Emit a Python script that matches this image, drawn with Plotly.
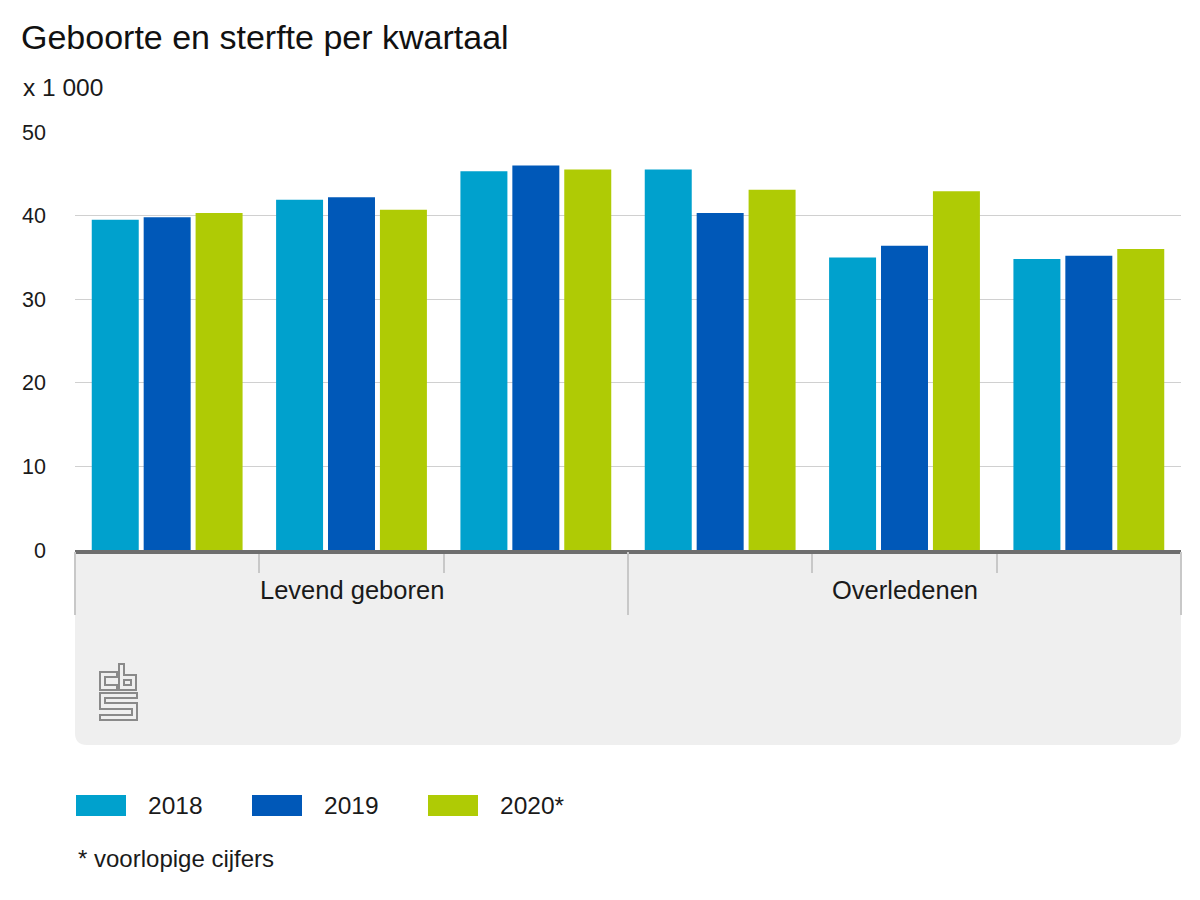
import plotly.graph_objects as go

# ---------------- data ----------------
groups = ["Levend geboren", "Overledenen"]
quarters = ["1e kwartaal", "2e kwartaal", "3e kwartaal"]
series_names = ["2018", "2019", "2020*"]
v2018 = [39.5, 41.9, 45.3, 45.5, 35.0, 34.8]
v2019 = [39.8, 42.2, 46.0, 40.3, 36.4, 35.2]
v2020 = [40.3, 40.7, 45.5, 43.1, 42.9, 36.0]
series_values = [v2018, v2019, v2020]
colors = ["#00A1CD", "#0058B8", "#AFCB05"]
y_ticks = [0, 10, 20, 30, 40, 50]
title_text = "Geboorte en sterfte per kwartaal"
unit_text = "x 1 000"
footnote = "* voorlopige cijfers"

categories = [f"{g} – {q}" for g in groups for q in quarters]

# ---------------- geometry helpers ----------------
OFF = 8  # page body margin
W, H = 1200, 900
ML, MR, MT, MB = 67, 27, 124, 358
PW, PH = W - ML - MR, H - MT - MB
FONT = "Liberation Sans, Arial, sans-serif"


def px(x):
    return (x - OFF - ML) / PW


def py(y):
    return (H - MB - (y - OFF)) / PH


fig = go.Figure()
for name, vals, col in zip(series_names, series_values, colors):
    fig.add_trace(go.Bar(
        x=categories, y=vals, name=name,
        marker=dict(color=col, line=dict(width=0)),
        showlegend=False,
        hovertemplate="%{x}<br>" + name + ": %{y}<extra></extra>",
    ))

shapes = []
annotations = []

# grey band below the axis with rounded bottom corners
x0, x1 = px(75), px(1181)
y0, y1 = py(552), py(745)
rx, ry = 12 / PW, 12 / PH
band_path = (f"M {x0},{y0} L {x1},{y0} L {x1},{y1 + ry} Q {x1},{y1} {x1 - rx},{y1} "
             f"L {x0 + rx},{y1} Q {x0},{y1} {x0},{y1 + ry} Z")
shapes.append(dict(type="path", path=band_path, xref="paper", yref="paper",
                   fillcolor="#EFEFEF", line=dict(width=0), layer="below"))

# long divider lines at group boundaries
n_cat = len(categories)
n_q = len(quarters)
for k in range(len(groups) + 1):
    xb = (k * n_q) / n_cat
    shapes.append(dict(type="line", xref="paper", yref="paper",
                       x0=xb, x1=xb, y0=py(552), y1=py(615),
                       line=dict(color="#C8C8C8", width=2), layer="above"))

# group labels
for i, g in enumerate(groups):
    xc = (i * n_q + n_q / 2) / n_cat
    annotations.append(dict(text=g, xref="paper", yref="paper", x=xc, y=py(590),
                            xanchor="center", yanchor="middle", showarrow=False,
                            font=dict(size=25.5, color="#1A1A1A", family=FONT)))

# CBS logo (outline drawing)
logo_paths = [
    [(100, 672), (117, 672), (117, 677), (105, 677), (105, 685), (117, 685), (117, 690), (100, 690)],
    [(119, 664), (124, 664), (124, 675), (136, 675), (136, 690), (119, 690)],
    [(124, 680), (131, 680), (131, 685), (124, 685)],
    [(100, 693), (137, 693), (137, 698), (105, 698), (105, 703), (137, 703), (137, 720),
     (100, 720), (100, 715), (132, 715), (132, 709), (100, 709)],
]
for pts in logo_paths:
    d = "M " + " L ".join(f"{px(a)},{py(b)}" for a, b in pts) + " Z"
    shapes.append(dict(type="path", path=d, xref="paper", yref="paper",
                       line=dict(color="#8A8A8A", width=2), fillcolor="rgba(0,0,0,0)"))

# custom legend
leg_x = [76, 252, 428]
for lx, name, col in zip(leg_x, series_names, colors):
    shapes.append(dict(type="rect", xref="paper", yref="paper",
                       x0=px(lx), x1=px(lx + 50), y0=py(795), y1=py(816),
                       fillcolor=col, line=dict(width=0)))
    annotations.append(dict(text=name, xref="paper", yref="paper", x=px(lx + 70), y=py(805),
                            xanchor="left", yanchor="middle", showarrow=False,
                            font=dict(size=24.5, color="#1A1A1A", family=FONT)))

annotations.append(dict(text=footnote, xref="paper", yref="paper", x=px(76), y=py(858),
                        xanchor="left", yanchor="middle", showarrow=False,
                        font=dict(size=24, color="#1A1A1A", family=FONT)))
annotations.append(dict(text=unit_text, xref="paper", yref="paper", x=px(21), y=py(88),
                        xanchor="left", yanchor="middle", showarrow=False,
                        font=dict(size=24.5, color="#1A1A1A", family=FONT)))

fig.update_layout(
    width=W, height=H,
    margin=dict(l=ML, r=MR, t=MT, b=MB, pad=0),
    paper_bgcolor="white", plot_bgcolor="white",
    font=dict(family=FONT, color="#1A1A1A"),
    title=dict(text=title_text, xref="container", yref="container",
               x=(21 - OFF) / W, y=1 - (37 - OFF) / H, xanchor="left", yanchor="middle",
               font=dict(size=34, color="#111111", family=FONT)),
    barmode="group", bargap=0.155, bargroupgap=0.095,
    xaxis=dict(type="category", showticklabels=False, showgrid=False,
               showline=True, linecolor="#6E6E6E", linewidth=4,
               ticks="outside", tickson="boundaries", ticklen=19, tickwidth=2,
               tickcolor="#C8C8C8", fixedrange=True),
    yaxis=dict(range=[0, 50], tickvals=y_ticks, showgrid=True, gridcolor="#D0D0D0",
               gridwidth=1, zeroline=False, showline=False, ticks="",
               ticklabelstandoff=28,
               tickfont=dict(size=21.5, color="#1A1A1A", family=FONT)),
    shapes=shapes, annotations=annotations, showlegend=False,
)

fig.write_html("out.html")
